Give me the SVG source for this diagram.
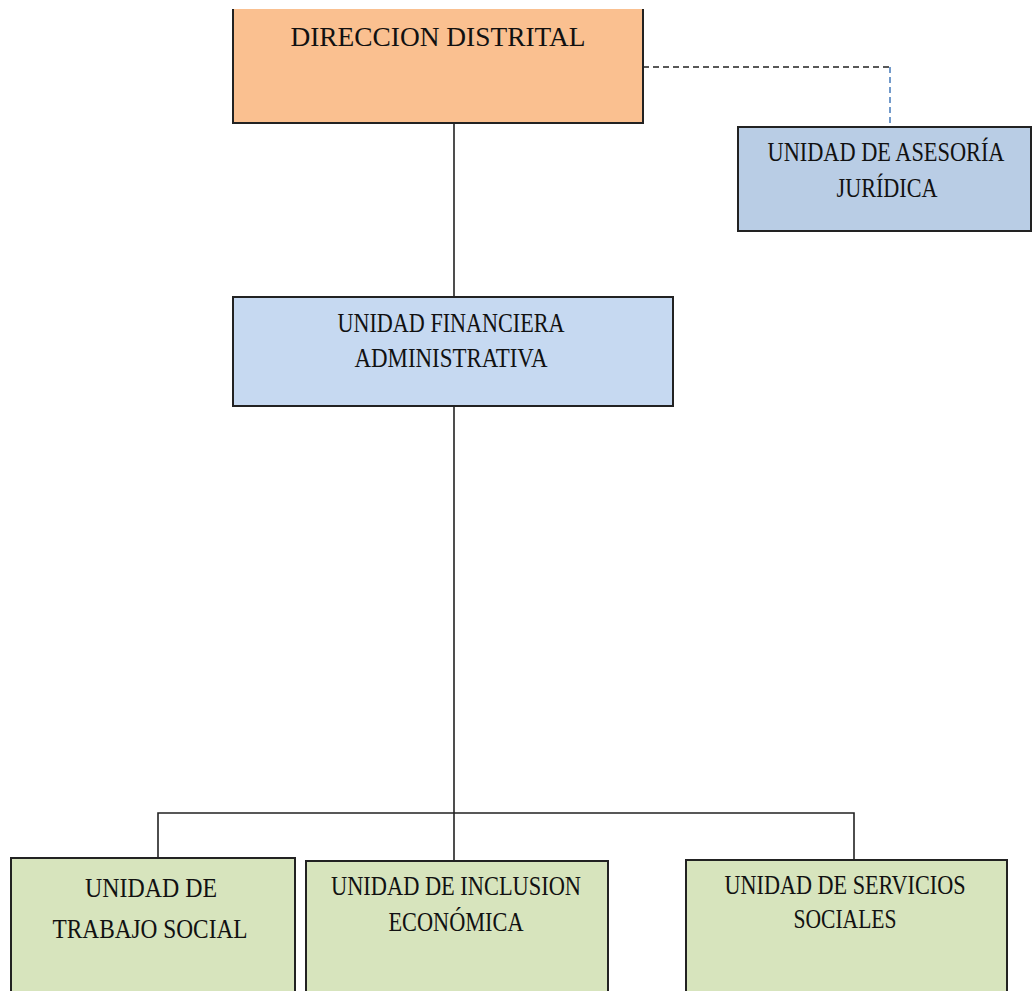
<svg xmlns="http://www.w3.org/2000/svg" width="1033" height="991" viewBox="0 0 1033 991">
<style>
.box{stroke:#222;stroke-width:2}
.t{font-family:"Liberation Serif","Times New Roman",serif;font-size:28px;fill:#111;text-anchor:middle}
.ln{stroke:#222;stroke-width:1.6;fill:none}
</style>
<rect width="1033" height="991" fill="#fff"/>
<g id="connectors">
<line class="ln" x1="454" y1="123" x2="454" y2="297"/>
<line class="ln" x1="454" y1="406" x2="454" y2="861"/>
<polyline class="ln" points="158,858 158,813 854,813 854,860"/>
<line class="ln" x1="643" y1="67" x2="890" y2="67" stroke-dasharray="6,4"/>
<line x1="890" y1="67" x2="890" y2="127" stroke="#4f81bd" stroke-width="1.6" stroke-dasharray="6,4"/>
</g>
<g id="direccion">
<rect x="233" y="9" width="410" height="114" fill="#fac090"/>
<path d="M233,9 V123 H643 V9" fill="none" class="box"/>
<text class="t" x="438" y="46" font-size="32" textLength="295" lengthAdjust="spacingAndGlyphs">DIRECCION DISTRITAL</text>
</g>
<g id="asesoria">
<rect class="box" x="738" y="127" width="293" height="104" fill="#b9cde5"/>
<text class="t" x="886" y="161" textLength="237" lengthAdjust="spacingAndGlyphs">UNIDAD DE ASESORÍA</text>
<text class="t" x="887" y="197" textLength="101" lengthAdjust="spacingAndGlyphs">JURÍDICA</text>
</g>
<g id="financiera">
<rect class="box" x="233" y="297" width="440" height="109" fill="#c6d9f1"/>
<text class="t" x="451" y="332" textLength="227" lengthAdjust="spacingAndGlyphs">UNIDAD FINANCIERA</text>
<text class="t" x="451" y="367" textLength="193" lengthAdjust="spacingAndGlyphs">ADMINISTRATIVA</text>
</g>
<g id="trabajo">
<rect class="box" x="11" y="858" width="284" height="150" fill="#d7e4bd"/>
<text class="t" x="151" y="897" textLength="132" lengthAdjust="spacingAndGlyphs">UNIDAD  DE</text>
<text class="t" x="150" y="938" textLength="195" lengthAdjust="spacingAndGlyphs">TRABAJO SOCIAL</text>
</g>
<g id="inclusion">
<rect class="box" x="306" y="861" width="302" height="150" fill="#d7e4bd"/>
<text class="t" x="456" y="895" textLength="250" lengthAdjust="spacingAndGlyphs">UNIDAD DE INCLUSION</text>
<text class="t" x="456" y="931" textLength="135" lengthAdjust="spacingAndGlyphs">ECONÓMICA</text>
</g>
<g id="servicios">
<rect class="box" x="686" y="860" width="321" height="150" fill="#d7e4bd"/>
<text class="t" x="845" y="894" textLength="241" lengthAdjust="spacingAndGlyphs">UNIDAD DE SERVICIOS</text>
<text class="t" x="845" y="928" textLength="103" lengthAdjust="spacingAndGlyphs">SOCIALES</text>
</g>
</svg>
